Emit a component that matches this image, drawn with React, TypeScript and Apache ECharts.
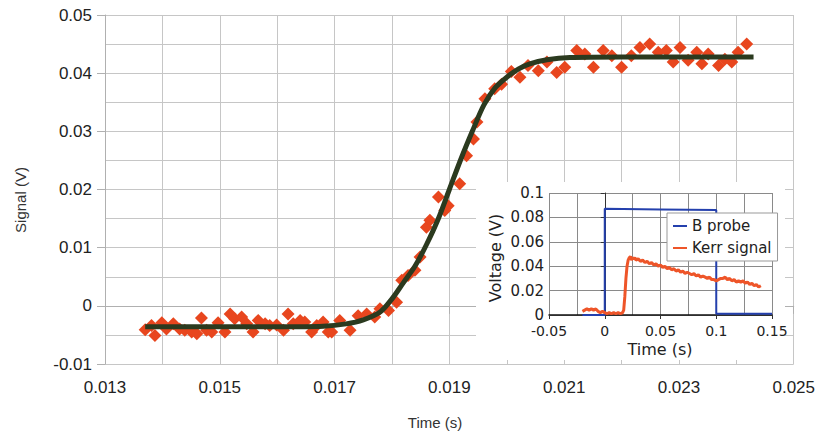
import React, { useEffect, useRef } from "react";
import * as echarts from "echarts";

// Main plot: measured signal (diamonds)
const signalTime = [
  0.0137, 0.01381, 0.01387, 0.01399, 0.01407, 0.01419, 0.0143, 0.01439, 0.01451, 0.0146,
  0.01468, 0.01477, 0.01486, 0.01497, 0.01509, 0.01518, 0.01526, 0.01538, 0.01547, 0.01558,
  0.01567, 0.01579, 0.01587, 0.01599, 0.01611, 0.01619, 0.01628, 0.0164, 0.01648, 0.0166,
  0.01669, 0.0168, 0.01689, 0.01695, 0.01709, 0.01727, 0.01741, 0.01756, 0.0177, 0.01779,
  0.01794, 0.01808, 0.01817, 0.01828, 0.0184, 0.01849, 0.0186, 0.01866, 0.01881, 0.01892,
  0.01898, 0.01918, 0.0193, 0.01942, 0.01948, 0.01962, 0.01979, 0.01991, 0.02008, 0.02023,
  0.02037, 0.02055, 0.0207, 0.02087, 0.02101, 0.02122, 0.02136, 0.02151, 0.02168, 0.02183,
  0.022, 0.02217, 0.02232, 0.02249, 0.02264, 0.02278, 0.0229, 0.02302, 0.02316, 0.02331,
  0.0234, 0.02351, 0.02369, 0.0238, 0.02392, 0.02403, 0.02418,
];
const signalValue = [
  -0.0041, -0.0034, -0.0051, -0.0029, -0.004, -0.0031, -0.004, -0.0042, -0.0045, -0.0048,
  -0.0021, -0.0042, -0.0045, -0.0029, -0.0045, -0.0014, -0.0022, -0.0019, -0.0031, -0.0045,
  -0.0025, -0.0031, -0.0034, -0.0033, -0.0042, -0.0014, -0.0031, -0.0025, -0.0028, -0.0045,
  -0.0034, -0.0028, -0.0045, -0.0045, -0.0025, -0.0042, -0.0017, -0.0014, -0.0019, -0.0005,
  -0.0008, 0.0006, 0.0044, 0.0052, 0.0061, 0.0084, 0.0135, 0.0147, 0.0187, 0.0164,
  0.0172, 0.021, 0.0258, 0.0287, 0.0316, 0.0356, 0.0373, 0.0381, 0.0403, 0.0393,
  0.0413, 0.0404, 0.0419, 0.0401, 0.041, 0.0439, 0.0433, 0.041, 0.0439, 0.043,
  0.041, 0.043, 0.0444, 0.045, 0.0436, 0.0439, 0.0419, 0.0444, 0.0422, 0.0436,
  0.0416, 0.0433, 0.0413, 0.0424, 0.0419, 0.0436, 0.045,
];

// Main plot: fitted curve
const fitTime = [
  0.0137, 0.016, 0.0168, 0.0172, 0.0175, 0.0178, 0.018, 0.0182, 0.0184, 0.0186, 0.0188,
  0.019, 0.0192, 0.0194, 0.0196, 0.0198, 0.02, 0.0202, 0.0204, 0.0207, 0.0211, 0.022, 0.0243,
];
const fitValue = [
  -0.0036, -0.0036, -0.0035, -0.0031, -0.0024, -0.001, 0.0012, 0.004, 0.0068, 0.0105, 0.0148,
  0.02, 0.0252, 0.03, 0.0345, 0.0375, 0.0393, 0.0407, 0.0416, 0.0423, 0.0427, 0.0428, 0.0428,
];

// Inset: B probe
const probeTime = [-0.02, 0, 0, 0.05, 0.1, 0.1, 0.15];
const probeValue = [0, 0, 0.087, 0.0865, 0.086, 0.001, 0.001];

// Inset: Kerr signal
const kerrTime = [
  -0.02, -0.018, -0.016, -0.014, -0.012, -0.01, -0.008, -0.006, -0.004, -0.002,
  0, 0.002, 0.004, 0.006, 0.008, 0.01, 0.012, 0.014, 0.016, 0.017,
  0.018, 0.019, 0.02, 0.021, 0.022, 0.023, 0.024, 0.025, 0.026, 0.027,
  0.028, 0.03, 0.032, 0.034, 0.036, 0.038, 0.04, 0.042, 0.044, 0.046,
  0.048, 0.05, 0.052, 0.054, 0.056, 0.058, 0.06, 0.062, 0.064, 0.066,
  0.068, 0.07, 0.072, 0.074, 0.076, 0.078, 0.08, 0.082, 0.084, 0.086,
  0.088, 0.09, 0.092, 0.094, 0.096, 0.098, 0.1, 0.102, 0.104, 0.106,
  0.108, 0.11, 0.112, 0.114, 0.116, 0.118, 0.12, 0.122, 0.124, 0.126,
  0.128, 0.13, 0.132, 0.134, 0.136, 0.138, 0.14,
];
const kerrValue = [
  0.003, 0.004, 0.005, 0.004, 0.005, 0.004, 0.005, 0.003, 0.002, 0.003,
  0.002, 0.001, 0.002, 0.001, 0.002, 0.001, 0.002, 0.001, 0.002, 0.004,
  0.015, 0.03, 0.04, 0.045, 0.047, 0.048, 0.045, 0.047, 0.046, 0.047,
  0.045, 0.046, 0.044, 0.045, 0.043, 0.044, 0.042, 0.043, 0.041, 0.042,
  0.04, 0.041, 0.039, 0.04, 0.038, 0.039, 0.037, 0.038, 0.036, 0.037,
  0.035, 0.036, 0.034, 0.035, 0.034, 0.033, 0.034, 0.032, 0.033, 0.031,
  0.032, 0.031, 0.03, 0.031, 0.029, 0.029, 0.028, 0.029, 0.03, 0.03,
  0.031, 0.029, 0.03, 0.028, 0.029, 0.027, 0.028, 0.027, 0.028, 0.026,
  0.027, 0.025, 0.026, 0.024, 0.025, 0.023, 0.024,
];

const pair = (xs: number[], ys: number[]) => xs.map((x, i) => [x, ys[i]]);

const MAIN_FONT = "'Liberation Sans', Arial, sans-serif";
const INSET_FONT = "'DejaVu Sans', sans-serif";

export default function App() {
  const ref = useRef<HTMLDivElement>(null);
  useEffect(() => {
    document.body.style.margin = "0";
    const chart = echarts.init(ref.current!, null, { renderer: "svg" });
    const gridGray = "#c6c6c6";
    const insetGray = "#8a8a8a";
    chart.setOption({
      animation: false,
      backgroundColor: "#ffffff",
      grid: [
        { left: 105, top: 15, right: 24, bottom: 70 },
        { left: 549, top: 193, width: 223, height: 122 },
      ],
      xAxis: [
        {
          type: "value",
          gridIndex: 0,
          min: 0.013,
          max: 0.025,
          interval: 0.002,
          axisLine: { lineStyle: { color: "#b0b0b0" } },
          axisTick: { length: 8, lineStyle: { color: "#b0b0b0" } },
          minorTick: { show: true, splitNumber: 2, length: 4, lineStyle: { color: "#b0b0b0" } },
          splitLine: { lineStyle: { color: gridGray } },
          minorSplitLine: { show: true, lineStyle: { color: gridGray } },
          axisLabel: {
            fontSize: 17,
            fontFamily: MAIN_FONT,
            color: "#222",
            margin: 15,
            formatter: (v: number) => v.toFixed(3),
          },
        },
        {
          type: "value",
          gridIndex: 1,
          min: -0.05,
          max: 0.15,
          interval: 0.05,
          z: 5,
          axisLine: { onZero: false, lineStyle: { color: "#111", width: 1.5 } },
          axisTick: { length: 4, lineStyle: { color: "#333" } },
          splitLine: { lineStyle: { color: insetGray } },
          minorSplitLine: { show: true, lineStyle: { color: insetGray } },
          minorTick: { show: false, splitNumber: 2 },
          axisLabel: {
            fontSize: 14,
            lineHeight: 14,
            fontFamily: INSET_FONT,
            color: "#222",
            margin: 9,
            formatter: (v: number) => String(Math.round(v * 100) / 100),
          },
        },
      ],
      yAxis: [
        {
          type: "value",
          gridIndex: 0,
          min: -0.01,
          max: 0.05,
          interval: 0.01,
          axisLine: { show: true, lineStyle: { color: "#b0b0b0" } },
          axisTick: { show: true, length: 8, lineStyle: { color: "#b0b0b0" } },
          splitLine: { lineStyle: { color: gridGray } },
          minorSplitLine: { show: true, lineStyle: { color: gridGray } },
          minorTick: { show: false, splitNumber: 2 },
          axisLabel: {
            fontSize: 17,
            fontFamily: MAIN_FONT,
            color: "#222",
            margin: 13,
            formatter: (v: number) => (Math.abs(v) < 1e-9 ? "0" : v.toFixed(2)),
          },
        },
        {
          type: "value",
          gridIndex: 1,
          min: 0,
          max: 0.1,
          interval: 0.02,
          z: 5,
          axisLine: { show: true, lineStyle: { color: "#333" } },
          axisTick: { show: true, length: 4, lineStyle: { color: "#333" } },
          splitLine: { lineStyle: { color: insetGray } },
          axisLabel: {
            fontSize: 15,
            lineHeight: 14,
            fontFamily: INSET_FONT,
            color: "#222",
            margin: 5,
            formatter: (v: number) => String(Math.round(v * 100) / 100),
          },
        },
      ],
      legend: {
        data: ["B probe", "Kerr signal"],
        orient: "vertical",
        left: 667,
        top: 213,
        z: 10,
        padding: [3, 6, 3, 6],
        itemGap: 2,
        itemWidth: 14,
        itemHeight: 2,
        icon: "rect",
        backgroundColor: "#ffffff",
        borderColor: "#999",
        borderWidth: 1,
        textStyle: { fontSize: 15, fontFamily: INSET_FONT, color: "#222", lineHeight: 20 },
      },
      graphic: [
        {
          type: "rect",
          z: 3,
          shape: { x: 476, y: 182, width: 309, height: 178 },
          style: { fill: "#ffffff" },
        },
        {
          type: "text",
          z: 10,
          x: 435,
          y: 422,
          style: {
            text: "Time (s)",
            fontSize: 15,
            fontFamily: MAIN_FONT,
            fill: "#333",
            align: "center",
            verticalAlign: "middle",
          },
        },
        {
          type: "text",
          z: 10,
          x: 20,
          y: 200,
          rotation: Math.PI / 2,
          style: {
            text: "Signal (V)",
            fontSize: 15,
            fontFamily: MAIN_FONT,
            fill: "#333",
            align: "center",
            verticalAlign: "middle",
          },
        },
        {
          type: "text",
          z: 10,
          x: 660,
          y: 349,
          style: {
            text: "Time (s)",
            fontSize: 16,
            fontFamily: INSET_FONT,
            fill: "#222",
            align: "center",
            verticalAlign: "middle",
          },
        },
        {
          type: "text",
          z: 10,
          x: 495,
          y: 258,
          rotation: Math.PI / 2,
          style: {
            text: "Voltage (V)",
            fontSize: 16,
            fontFamily: INSET_FONT,
            fill: "#222",
            align: "center",
            verticalAlign: "middle",
          },
        },
      ],
      series: [
        {
          name: "Signal",
          type: "scatter",
          xAxisIndex: 0,
          yAxisIndex: 0,
          symbol: "diamond",
          symbolSize: 13,
          itemStyle: { color: "#e8461e", opacity: 1 },
          data: pair(signalTime, signalValue),
          z: 2,
        },
        {
          name: "Fit",
          type: "line",
          xAxisIndex: 0,
          yAxisIndex: 0,
          smooth: 0.3,
          showSymbol: false,
          symbol: "none",
          lineStyle: { color: "#2b3a1f", width: 5 },
          data: pair(fitTime, fitValue),
          z: 3,
        },
        {
          name: "B probe",
          type: "line",
          xAxisIndex: 1,
          yAxisIndex: 1,
          showSymbol: false,
          symbol: "none",
          color: "#2440ad",
          lineStyle: { color: "#2440ad", width: 2 },
          data: pair(probeTime, probeValue),
          z: 6,
        },
        {
          name: "Kerr signal",
          type: "line",
          xAxisIndex: 1,
          yAxisIndex: 1,
          showSymbol: false,
          symbol: "none",
          color: "#ee5529",
          lineStyle: { color: "#ee5529", width: 3 },
          data: pair(kerrTime, kerrValue),
          z: 7,
        },
      ],
    });
    return () => chart.dispose();
  }, []);
  return <div ref={ref} style={{ width: 818, height: 434 }} />;
}
